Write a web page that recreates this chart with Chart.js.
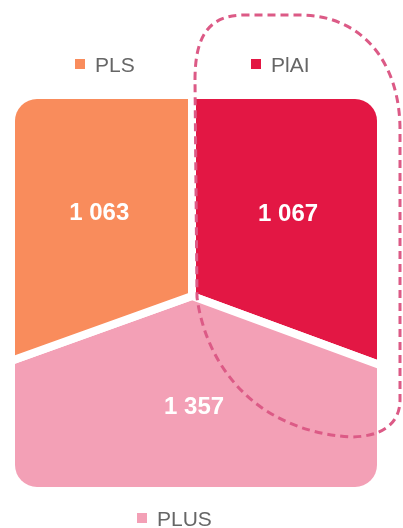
<!DOCTYPE html>
<html>
<head>
<meta charset="utf-8">
<script src="https://cdn.jsdelivr.net/npm/chart.js@4.4.1/dist/chart.umd.min.js"></script>
<style>
  html, body { margin: 0; padding: 0; width: 403px; height: 528px; overflow: hidden; background: #fff; }
  #wrap { position: absolute; left: -108px; top: -4px; width: 600px; height: 600px; }
  .leg { position: absolute; font: 21px "Liberation Sans", Arial, sans-serif; color: #666; white-space: nowrap; line-height: 1; }
  .leg i { display: inline-block; width: 10px; height: 10px; margin-right: 10px; vertical-align: 3px; }
</style>
</head>
<body>
<div id="wrap"><canvas id="pie" width="600" height="600"></canvas></div>
<div id="legend"></div>
<script>
// Данные
const labels = ['PlAI', 'PLUS', 'PLS'];
const values = [1067, 1357, 1063];
const colors = ['#E31744', '#F3A0B6', '#F98C5C'];

// Позиции легенды (левый верхний угол)
const legendPos = { 'PLS': [75, 54], 'PlAI': [251, 54], 'PLUS': [137, 508] };

const fmt = v => String(v).replace(/\B(?=(\d{3})+(?!\d))/g, ' ');

// Легенда в HTML
const legendEl = document.getElementById('legend');
labels.forEach((l, i) => {
    const d = document.createElement('div');
    d.className = 'leg';
    d.style.left = legendPos[l][0] + 'px';
    d.style.top = legendPos[l][1] + 'px';
    d.innerHTML = '<i style="background:' + colors[i] + '"></i>' + l;
    legendEl.appendChild(d);
});

function roundRect(ctx, x, y, w, h, r) {
    ctx.beginPath();
    ctx.moveTo(x + r, y);
    ctx.lineTo(x + w - r, y);
    ctx.arcTo(x + w, y, x + w, y + r, r);
    ctx.lineTo(x + w, y + h - r);
    ctx.arcTo(x + w, y + h, x + w - r, y + h, r);
    ctx.lineTo(x + r, y + h);
    ctx.arcTo(x, y + h, x, y + h - r, r);
    ctx.lineTo(x, y + r);
    ctx.arcTo(x, y, x + r, y, r);
    ctx.closePath();
}

// квадрат, которым обрезается пирог (относительно центра)
function clipBox(cx, cy) {
    return { x: cx - 177, y: cy - 197, w: 362, h: 388 };
}

// Обрезка пирога скруглённым квадратом + подписи + пунктирная рамка
const squarePie = {
    id: 'squarePie',
    beforeDatasetsDraw(chart) {
        const ctx = chart.ctx;
        const a = chart.getDatasetMeta(0).data[0];
        const b = clipBox(a.x, a.y);
        ctx.save();
        roundRect(ctx, b.x, b.y, b.w, b.h, 22);
        ctx.clip();
    },
    afterDatasetsDraw(chart) {
        chart.ctx.restore();
    },
    afterDraw(chart) {
        const ctx = chart.ctx;
        const arcs = chart.getDatasetMeta(0).data;
        const cx = arcs[0].x, cy = arcs[0].y;
        const b = clipBox(cx, cy);

        // подписи значений — в центре видимой (обрезанной) части сектора
        ctx.save();
        ctx.fillStyle = '#fff';
        ctx.font = 'bold 24px "Liberation Sans", Arial, sans-serif';
        ctx.textAlign = 'center';
        ctx.textBaseline = 'middle';
        arcs.forEach((arc, i) => {
            let sx = 0, sy = 0, n = 0;
            for (let x = b.x; x < b.x + b.w; x += 3) {
                for (let y = b.y; y < b.y + b.h; y += 3) {
                    if (arc.inRange(x, y)) { sx += x; sy += y; n++; }
                }
            }
            ctx.fillText(fmt(values[i]), sx / n, sy / n);
        });
        ctx.restore();

        // пунктирное выделение вокруг PlAI
        ctx.save();
        ctx.strokeStyle = '#DC5A86';
        ctx.lineWidth = 3;
        ctx.setLineDash([8, 5]);
        ctx.beginPath();
        ctx.moveTo(cx + 3, cy - 216);
        ctx.bezierCurveTo(cx + 3, cy - 262, cx + 18, cy - 281, cx + 53, cy - 281);
        ctx.lineTo(cx + 108, cy - 281);
        ctx.bezierCurveTo(cx + 168, cy - 281, cx + 208, cy - 236, cx + 208, cy - 166);
        ctx.lineTo(cx + 208, cy + 104);
        ctx.bezierCurveTo(cx + 208, cy + 129, cx + 188, cy + 141, cx + 158, cy + 141);
        ctx.bezierCurveTo(cx + 58, cy + 134, cx + 13, cy + 64, cx + 5, cy + 1);
        ctx.closePath();
        ctx.stroke();
        ctx.restore();
    }
};

new Chart(document.getElementById('pie'), {
    type: 'pie',
    data: {
        labels: labels,
        datasets: [{
            data: values,
            backgroundColor: colors,
            borderColor: '#fff',
            borderWidth: 8
        }]
    },
    options: {
        responsive: false,
        animation: false,
        layout: { padding: 0 },
        plugins: {
            legend: { display: false },
            tooltip: { enabled: false }
        }
    },
    plugins: [squarePie]
});
</script>
</body>
</html>
